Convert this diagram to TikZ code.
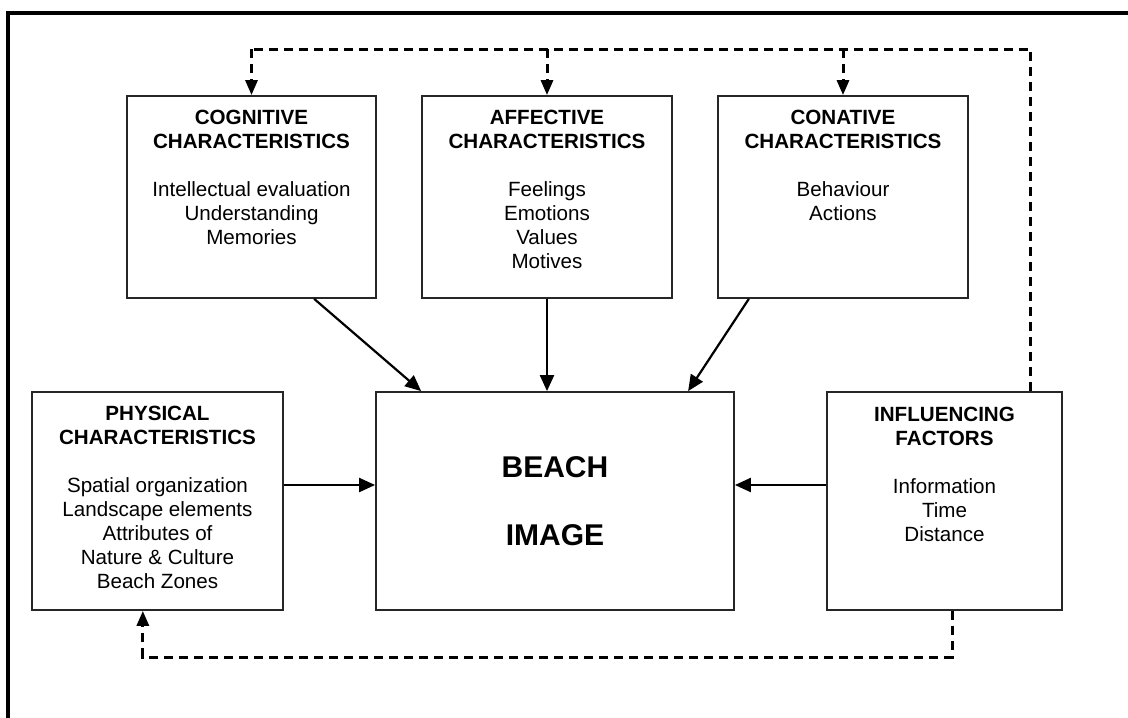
\documentclass[tikz,border=0pt]{standalone}
\usepackage{fontspec}
\setmainfont{Liberation Sans}
\usetikzlibrary{arrows.meta,calc}
\begin{document}
\begin{tikzpicture}[x=1pt,y=-1pt,
  box/.style={draw=black!85, line width=1.8pt, fill=white, inner sep=0pt},
  txt/.style={align=center, inner sep=0pt, anchor=north, font=\fontsize{20.6}{24}\selectfont},
  solidarrow/.style={line width=2.2pt, -{Triangle[length=16pt,width=14pt]}},
  dashline/.style={line width=3pt, dash pattern=on 9pt off 6pt},
  dasharrow/.style={dashline, -{Triangle[length=15pt,width=12pt]}},
  frame/.style={line width=3.8pt}]
\useasboundingbox (0,0) rectangle (1128,718);
% frame (top and left edges only visible)
\coordinate (fc) at (8,13);
\coordinate (fr) at (1140,13);
\coordinate (fb) at (8,730);
\draw[frame] (fr) -- (fc) -- (fb);
% boxes
\node[box, minimum width=249pt, minimum height=202pt] (cog) at (251.5,197) {};
\node[box, minimum width=250pt, minimum height=202pt] (aff) at (547,197) {};
\node[box, minimum width=250pt, minimum height=202pt] (con) at (843,197) {};
\node[box, minimum width=251pt, minimum height=218pt] (phys) at (157.5,501) {};
\node[box, minimum width=358pt, minimum height=218pt] (beach) at (555,501) {};
\node[box, minimum width=235pt, minimum height=218pt] (inf) at (944.5,501) {};
% texts
\node[txt] (cogt) at (251.5,110) {\bfseries COGNITIVE\\\bfseries CHARACTERISTICS\\[24pt]Intellectual evaluation\\Understanding\\Memories};
\node[txt] (afft) at (547,110) {\bfseries AFFECTIVE\\\bfseries CHARACTERISTICS\\[24pt]Feelings\\Emotions\\Values\\Motives};
\node[txt] (cont) at (843,110) {\bfseries CONATIVE\\\bfseries CHARACTERISTICS\\[24pt]Behaviour\\Actions};
\node[txt] (physt) at (157.5,406) {\bfseries PHYSICAL\\\bfseries CHARACTERISTICS\\[24pt]Spatial organization\\Landscape elements\\Attributes of\\Nature \& Culture\\Beach Zones};
\node[txt] (inft) at (944.5,407) {\bfseries INFLUENCING\\\bfseries FACTORS\\[24pt]Information\\Time\\Distance};
\node[align=center, inner sep=0pt, font=\fontsize{30}{34}\selectfont\bfseries] (beacht) at (555,501) {BEACH\\[34pt]IMAGE};
% solid arrows into beach image
\draw[solidarrow] ($(cog.south west)!0.75!(cog.south east)$) -- ($(beach.north west)!0.128!(beach.north east)$);
\draw[solidarrow] (aff.south) -- (aff.south |- beach.north);
\draw[solidarrow] ($(con.south west)!0.126!(con.south east)$) -- ($(beach.north west)!0.87!(beach.north east)$);
\coordinate (hy) at (0,485);
\draw[solidarrow] (phys.east |- hy) -- (beach.west |- hy);
\draw[solidarrow] (inf.west |- hy) -- (beach.east |- hy);
% dashed feedback loops
\coordinate (topy) at (0,49);
\coordinate (boty) at (0,657);
\coordinate (infTop) at ($(inf.north west)!0.864!(inf.north east)$);
\coordinate (infBot) at ($(inf.south west)!0.532!(inf.south east)$);
\coordinate (physBot) at ($(phys.south west)!0.442!(phys.south east)$);
\draw[dashline] (infTop) -- (infTop |- topy) -- (cog.north |- topy);
\draw[dasharrow] (cog.north |- topy) -- (cog.north);
\draw[dasharrow] (aff.north |- topy) -- (aff.north);
\draw[dasharrow] (con.north |- topy) -- (con.north);
\draw[dasharrow] (infBot) -- (infBot |- boty) -- (physBot |- boty) -- (physBot);
\end{tikzpicture}
\end{document}
